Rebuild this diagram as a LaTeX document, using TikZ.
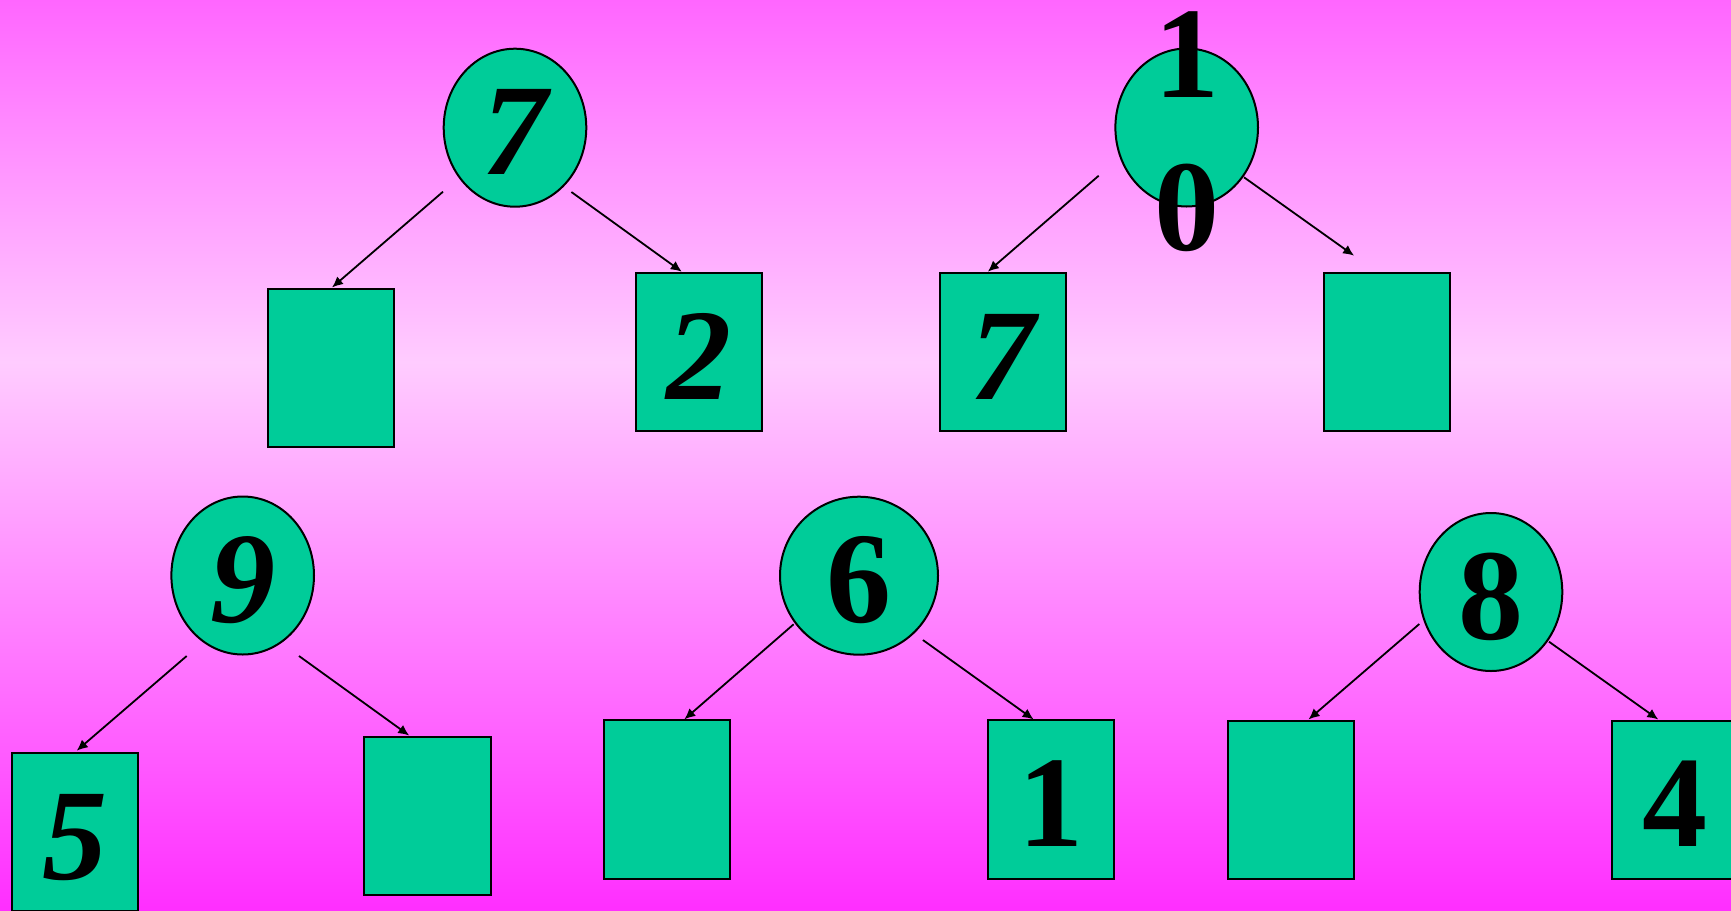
\documentclass[tikz,border=0pt]{standalone}
\usepackage{fontspec}
\setmainfont{Liberation Serif}
\usetikzlibrary{shapes, arrows, arrows.meta, calc}

\definecolor{keygreen}{HTML}{00CC99}
\definecolor{bgtop}{HTML}{FF66FF}
\definecolor{bglight}{HTML}{FFCCFF}
\definecolor{bgbot}{HTML}{FF2EFF}

\begin{document}
\begin{tikzpicture}[x=0.5pt, y=-0.5pt,
    key/.style={draw, fill=keygreen, line width=1pt, inner sep=0pt,
        font=\fontsize{65}{76.5}\selectfont\bfseries, text height=47pt, text depth=0pt},
    oval/.style={key, ellipse, minimum width=71.3pt, minimum height=79pt},
    leaf/.style={key, rectangle, minimum width=63.3pt, minimum height=79.3pt},
    slant/.style={font=\fontsize{65}{76.5}\selectfont\bfseries\itshape},
    edge/.style={-{Latex[length=5.5pt, width=5pt]}, line width=0.9pt}]
            \useasboundingbox (0, 0) rectangle (1731, 911);
            \shade[top color=bgtop, bottom color=bglight] (0, 0) rectangle (1731, 362);
            \shade[top color=bglight, bottom color=bgbot] (0, 362) rectangle (1731, 911);

            \node[oval, slant] (n1) at (515, 127.7) {7};
            \node[leaf] (n2) at (331, 367.8) {};
            \node[leaf, slant] (n3) at (698.8, 352) {2};
            % the two digits run out of the oval
            \node[oval, text height={}, text depth={}] (n4) at (1186.7, 127.5)
                {\smash{\raisebox{-61.25pt}{\vbox{\hbox{1}\hbox{0}}}}};
            \node[leaf, slant] (n5) at (1002.8, 352) {7};
            \node[leaf] (n6) at (1387.1, 352) {};

            \node[oval, slant] (n7) at (242.7, 575.5) {9};
            \node[leaf, slant] (n8) at (75, 832) {5};
            \node[leaf] (n9) at (427.2, 815.8) {};
            \node[oval, circle, minimum size=79pt] (n10) at (859, 575.7) {6};
            \node[leaf] (n11) at (667, 799.7) {};
            \node[leaf] (n12) at (1051, 799.7) {1};
            \node[oval] (n13) at (1491, 592) {8};
            \node[leaf] (n14) at (1291, 799.8) {};
            \node[leaf] (n15) at (1675.3, 799.8) {4};

            \draw[edge] ($(n1)+(-72, 64)$) -- ($(n2.north)+(1, 0)$);
            \draw[edge] ($(n1)+(56.4, 64.3)$) -- ($(n3.north)+(-17, 0)$);
            \draw[edge] ($(n4)+(-88, 48.2)$) -- ($(n5.north)+(-15, 0)$);
            \draw[edge] ($(n4)+(57.3, 49.8)$) -- ($(n6.north)+(-33, -16)$);
            \draw[edge] ($(n7)+(-56, 80.5)$) -- ($(n8.north)+(1.7, -1)$);
            \draw[edge] ($(n7)+(56.3, 80.5)$) -- ($(n9.north)+(-18, 0)$);
            \draw[edge] ($(n10)+(-65.4, 48.6)$) -- ($(n11.north)+(17.3, 0)$);
            \draw[edge] ($(n10)+(63.9, 64.3)$) -- ($(n12.north)+(-17.4, 0)$);
            \draw[edge] ($(n13)+(-71.7, 32)$) -- ($(n14.north)+(17.5, 0)$);
            \draw[edge] ($(n13)+(58, 49.7)$) -- ($(n15.north)+(-17, 0)$);
    	\end{tikzpicture}
\end{document}
